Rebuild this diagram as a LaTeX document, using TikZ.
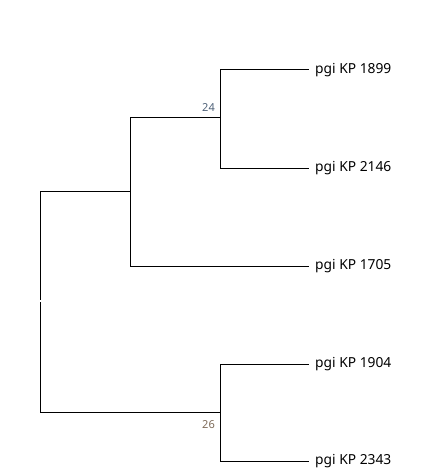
\documentclass[tikz,border=0pt]{standalone}
\usepackage{fontspec}
\setmainfont{Noto Sans}
\definecolor{supA}{HTML}{4E6178}
\definecolor{supB}{HTML}{7D6A58}
\begin{document}
\begin{tikzpicture}[x=1pt,y=-1pt,
  branch/.style={draw=black,line width=1pt},
  leaf/.style={anchor=west,inner xsep=6pt,inner ysep=0pt,font=\fontsize{13.8}{16}\selectfont},
  support/.style={anchor=east,inner sep=0pt,font=\fontsize{11}{12}\selectfont}]
\useasboundingbox (0,0) rectangle (432,476);
% internal nodes of the tree
\coordinate (rtop) at (40,191);
\coordinate (rmidA) at (40,300);
\coordinate (rmidB) at (40,302);
\coordinate (rbot) at (40,412);
\coordinate (nA) at (130,191);
\coordinate (nAtop) at (130,118);
\coordinate (nAbot) at (130,266);
\coordinate (nB) at (220,118);
\coordinate (nBtop) at (220,70);
\coordinate (nBbot) at (220,168);
\coordinate (nC) at (220,412);
\coordinate (nCtop) at (220,364);
\coordinate (nCbot) at (220,461);
% leaves
\node[leaf] (l1) at (309,70) {pgi KP 1899};
\node[leaf] (l2) at (309,168) {pgi KP 2146};
\node[leaf] (l3) at (309,266) {pgi KP 1705};
\node[leaf] (l4) at (309,364) {pgi KP 1904};
\node[leaf] (l5) at (309,461) {pgi KP 2343};
% support values
\node[support,text=supA] (s24) at (215,108) {24};
\node[support,text=supB] (s26) at (215,425) {26};
% root
\draw[branch] (rtop) -- (rmidA);
\draw[branch] (rmidB) -- (rbot);
\draw[branch] (rtop) -- (nA);
\draw[branch] (rbot) -- (nC);
% clade A
\draw[branch] (nAtop) -- (nAbot);
\draw[branch] (nAtop) -- (nB);
\draw[branch] (nAbot) -- (l3.west);
% clade B
\draw[branch] (nBtop) -- (nBbot);
\draw[branch] (nBtop) -- (l1.west);
\draw[branch] (nBbot) -- (l2.west);
% clade C
\draw[branch] (nCtop) -- (nCbot);
\draw[branch] (nCtop) -- (l4.west);
\draw[branch] (nCbot) -- (l5.west);
\end{tikzpicture}
\end{document}
